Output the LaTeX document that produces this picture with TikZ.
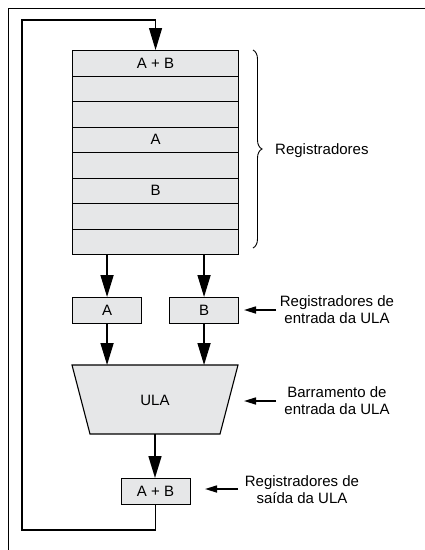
\documentclass[tikz,border=0pt]{standalone}
\usepackage{fontspec}
\setmainfont{Liberation Sans}
\usetikzlibrary{arrows.meta,decorations.pathreplacing}
\definecolor{boxgray}{RGB}{230,231,232}
\begin{document}
\begin{tikzpicture}[x=1pt,y=-1pt,
  txt/.style={font=\fontsize{15}{17}\selectfont},
  reg/.style={draw, line width=1.1pt, fill=boxgray, minimum width=166pt, minimum height=25.5pt,
    inner sep=0pt, anchor=north west, txt},
  small reg/.style={reg, minimum width=69pt},
  bigarrow/.style={-{Triangle[length=22pt,width=13pt]}, line width=1.6pt},
  smallarrow/.style={-{Triangle[length=12pt,width=7pt]}, line width=1.6pt},
  lbl/.style={align=center, inner sep=0pt, txt},
  thin line/.style={line width=0.9pt}]
\useasboundingbox (0,0) rectangle (425,550);
% outer frame
\draw[thin line] (8,550) -- (8,8) -- (425,8);
% register stack
\node[reg] (r1) at (72,50) {A + B};
\node[reg] (r2) at (72,75.5) {};
\node[reg] (r3) at (72,101) {};
\node[reg] (r4) at (72,126.5) {A};
\node[reg] (r5) at (72,152) {};
\node[reg] (r6) at (72,177.5) {B};
\node[reg] (r7) at (72,203) {};
\node[reg] (r8) at (72,228.5) {};
% brace
\draw[line width=0.9pt, decorate, decoration={brace, amplitude=9pt}] (253,50) -- (253,248);
\node[lbl, anchor=west] (regs) at (275,151) {Registradores};
% input registers
\node[small reg] (ra) at (72,297) {A};
\node[small reg] (rb) at (169,297) {B};
\draw[bigarrow] (ra.north |- r8.south) -- (ra.north);
\draw[bigarrow] (rb.north |- r8.south) -- (rb.north);
% ULA
\coordinate (ul) at (72,365);
\coordinate (ur) at (238,365);
\coordinate (lr) at (220,434);
\coordinate (ll) at (90,434);
\draw[line width=1.1pt, fill=boxgray] (ul) -- (ur) -- (lr) -- (ll) -- cycle;
\node[txt] (ula) at (155,400) {ULA};
\draw[bigarrow] (ra.south) -- (ra.south |- ul);
\draw[bigarrow] (rb.south) -- (rb.south |- ul);
% output register
\node[small reg] (out) at (120.5,478) {A + B};
\coordinate (ulabot) at (155,434);
\draw[bigarrow] (ulabot) -- (ulabot |- out.north);
% feedback loop
\coordinate (loopbl) at (22,530);
\coordinate (looptl) at (22,20);
\draw[bigarrow, line width=1.1pt] (out.south) |- (loopbl) -- (looptl) -| (r1.north);
% labels
\node[lbl] (l1) at (337,310) {Registradores de\\entrada da ULA};
\node[lbl] (l2) at (337,401) {Barramento de\\entrada da ULA};
\node[lbl] (l3) at (302,490) {Registradores de\\saída da ULA};
\coordinate (t1) at (244,310);
\coordinate (t2) at (244,401);
\coordinate (t3) at (205,489);
\coordinate (s1) at (276,310);
\coordinate (s2) at (276,401);
\coordinate (s3) at (238,489);
\draw[smallarrow] (s1) -- (t1);
\draw[smallarrow] (s2) -- (t2);
\draw[smallarrow] (s3) -- (t3);
\end{tikzpicture}
\end{document}
